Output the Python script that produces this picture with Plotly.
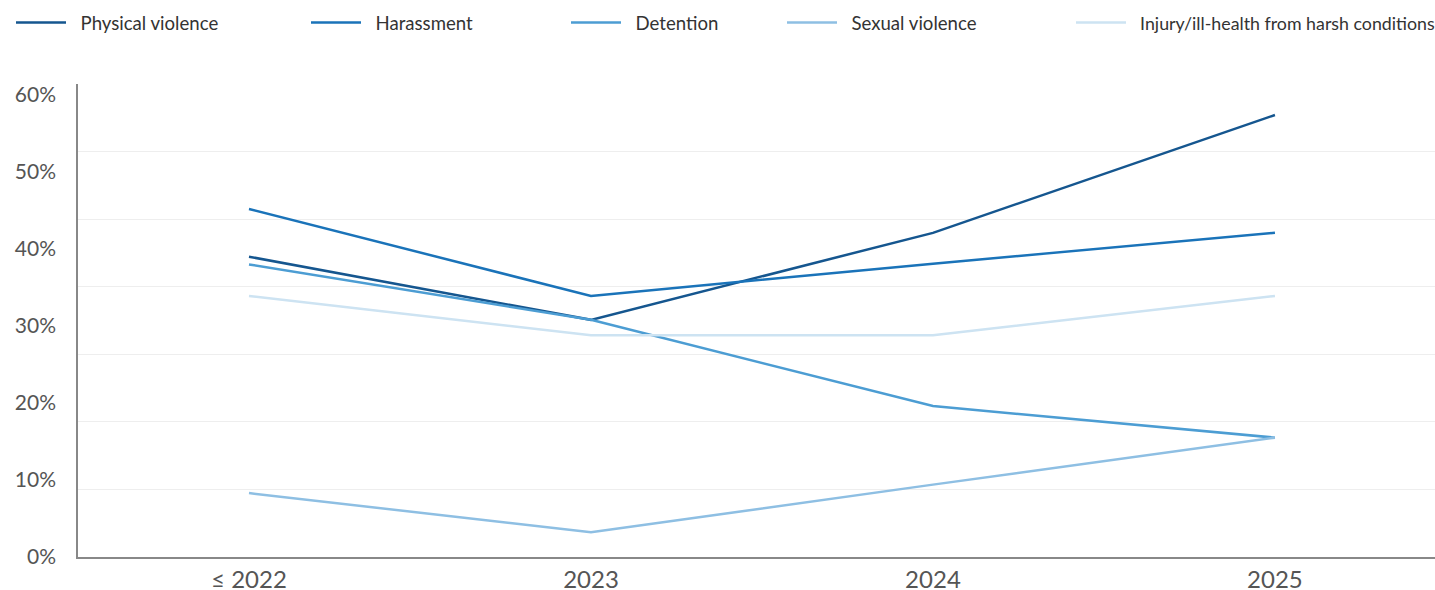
import plotly.graph_objects as go

categories = ["≤ 2022", "2023", "2024", "2025"]
physical_violence = [39.0, 30.8, 42.1, 57.4]
harassment = [45.2, 33.9, 38.1, 42.1]
detention = [38.0, 30.8, 19.6, 15.5]
sexual_violence = [8.3, 3.2, 9.4, 15.5]
injury_harsh = [33.9, 28.8, 28.8, 33.9]

series_names = ["Physical violence", "Harassment", "Detention", "Sexual violence",
                "Injury/ill-health from harsh conditions"]
series_values = [physical_violence, harassment, detention, sexual_violence, injury_harsh]
colors = ["#15568f", "#1a73b9", "#4c9dd3", "#8ebfe3", "#cde3f2"]
legend_x_px = [11, 306, 566, 782, 1071]
legend_font_px = [18.6, 18.6, 18.6, 18.6, 17.8]

y_labels = [0, 10, 20, 30, 40, 50, 60]
W, H = 1435, 590
y_top = 61.43
grid_vals = [y_top * k / 7 for k in range(8)]

FONT = "Lato"
fig = go.Figure()
for i, (name, vals, col) in enumerate(zip(series_names, series_values, colors)):
    fig.add_trace(go.Scatter(
        x=categories, y=vals, name="\u00a0\u00a0" + name, mode="lines",
        line=dict(color=col, width=2.5),
        legend="legend" if i == 0 else f"legend{i+1}",
    ))
# invisible helper so the label axis is drawn
fig.add_trace(go.Scatter(x=[categories[0]], y=[None], yaxis="y2", showlegend=False,
                         hoverinfo="skip", mode="lines"))

layout = dict(
    width=W, height=H,
    margin=dict(l=78, r=0, t=84, b=33, autoexpand=False),
    paper_bgcolor="white", plot_bgcolor="white",
    font=dict(family=FONT, color="#555555"),
    xaxis=dict(
        type="category", range=[-0.5, 3.468],
        showgrid=False, showline=True, linecolor="#888888", linewidth=2,
        ticks="", tickfont=dict(size=24, color="#555555"),
        ticklabelstandoff=0, automargin=False,
    ),
    yaxis=dict(
        range=[0, y_top], tickvals=grid_vals, showticklabels=False,
        showgrid=True, gridcolor="#eeeeee", gridwidth=1,
        showline=True, linecolor="#888888", linewidth=2,
        zeroline=False, ticks="", automargin=False,
    ),
    yaxis2=dict(
        range=[0, y_top], overlaying="y", side="left",
        tickvals=y_labels, ticktext=[f"{v}%" for v in y_labels],
        showgrid=False, zeroline=False, showline=False, ticks="",
        tickfont=dict(size=21, color="#555555"),
        ticklabelstandoff=21, automargin=False,
    ),
    showlegend=True,
)
for i, xp in enumerate(legend_x_px):
    key = "legend" if i == 0 else f"legend{i+1}"
    layout[key] = dict(
        x=xp / W, xref="container", y=1 - 23 / H, yref="container",
        xanchor="left", yanchor="middle", orientation="h",
        font=dict(size=legend_font_px[i], color="#333333", family=FONT),
        itemwidth=50, bgcolor="rgba(0,0,0,0)",
    )
fig.update_layout(**layout)
fig.write_html("out.html", config={"displayModeBar": False},
               post_script="document.body.style.margin='0';")
